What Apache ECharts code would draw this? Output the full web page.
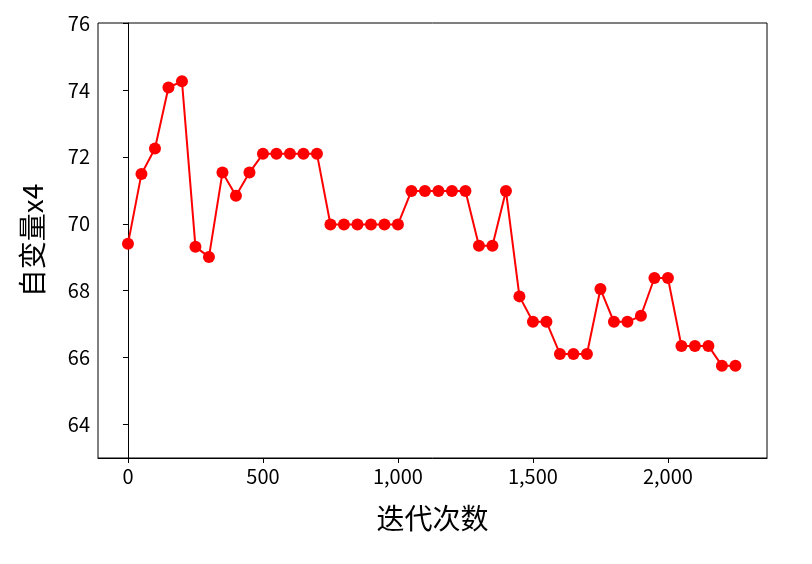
<!DOCTYPE html>
<html>
<head>
<meta charset="utf-8">
<script src="https://cdn.jsdelivr.net/npm/echarts@6/dist/echarts.min.js"></script>
<style>html,body{margin:0;padding:0;background:#fff}#chart{width:812px;height:564px}</style>
</head>
<body>
<div id="chart"></div>
<script>
const iterations = [0,50,100,150,200,250,300,350,400,450,500,550,600,650,700,750,800,850,900,950,1000,1050,1100,1150,1200,1250,1300,1350,1400,1450,1500,1550,1600,1650,1700,1750,1800,1850,1900,1950,2000,2050,2100,2150,2200,2250]
const x4 = [69.40,71.49,72.25,74.07,74.26,69.31,69.01,71.53,70.84,71.53,72.09,72.09,72.09,72.09,72.09,69.98,69.98,69.98,69.98,69.98,69.98,70.98,70.98,70.98,70.98,70.98,69.34,69.34,70.98,67.83,67.07,67.07,66.11,66.11,66.11,68.05,67.07,67.07,67.25,68.38,68.38,66.35,66.35,66.35,65.76,65.76]
const xTicks = [0,500,1000,1500,2000]
const yTicks = [64,66,68,70,72,74,76]

const font = 'Noto Sans CJK SC'
const chart = echarts.init(document.getElementById('chart'))
chart.setOption({
  animation: false,
  grid: { left: 98, right: 45, top: 23, bottom: 106, show: true, borderColor: '#000', borderWidth: 1 },
  xAxis: {
    type: 'value', min: -111, max: 2367,
    name: '迭代次数', nameLocation: 'middle', nameGap: 46,
    nameTextStyle: { fontFamily: font, fontSize: 28, color: '#000' },
    axisLine: { show: true, onZero: false, lineStyle: { color: '#000' } },
    axisTick: { show: true, length: 5, customValues: xTicks, lineStyle: { color: '#000' } },
    axisLabel: { customValues: xTicks, fontFamily: font, fontSize: 20, color: '#000', margin: 8 },
    splitLine: { show: false }
  },
  yAxis: {
    type: 'value', min: 63, max: 76,
    name: '自变量x4', nameLocation: 'middle', nameGap: 52,
    nameTextStyle: { fontFamily: font, fontSize: 28, color: '#000' },
    axisLine: { show: true, lineStyle: { color: '#000' } },
    axisTick: { show: true, length: 5, customValues: yTicks, lineStyle: { color: '#000' } },
    axisLabel: { customValues: yTicks, fontFamily: font, fontSize: 20, color: '#000', margin: 8 },
    splitLine: { show: false }
  },
  series: [{
    type: 'line',
    data: iterations.map((v, i) => [v, x4[i]]),
    symbol: 'circle', symbolSize: 12,
    lineStyle: { color: '#ff0000', width: 2 },
    itemStyle: { color: '#ff0000' }
  }]
})
</script>
</body>
</html>
